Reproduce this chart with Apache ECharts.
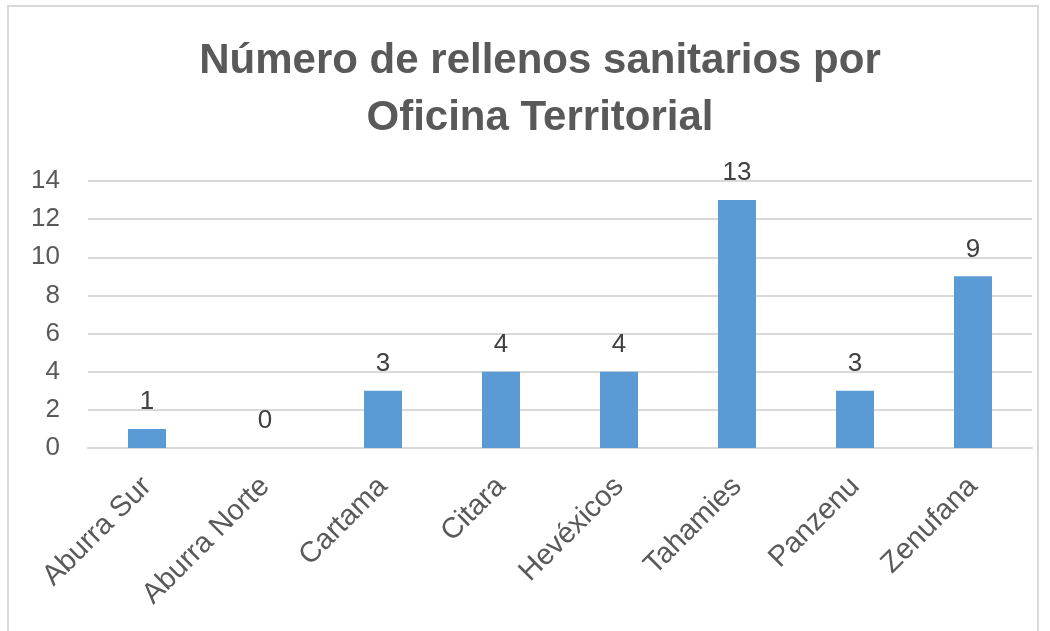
<!DOCTYPE html>
<html><head><meta charset="utf-8">
<script src="https://cdn.jsdelivr.net/npm/echarts@6/dist/echarts.min.js"></script>
<style>
html,body{margin:0;padding:0;background:#fff;}
#frame{position:absolute;left:7px;top:5px;width:1032px;height:640px;border:2px solid #d9d9d9;box-sizing:border-box;}
#c{position:absolute;left:0;top:0;width:1050px;height:631px;}
</style></head>
<body><div id="frame"></div><div id="c"></div>
<script>
const categories = ['Aburra Sur','Aburra Norte','Cartama','Citara','Hevéxicos','Tahamies','Panzenu','Zenufana'];
const values = [1,0,3,4,4,13,3,9];
const yTicks = {min:0,max:14,interval:2};
const titleText = 'Número de rellenos sanitarios por\nOficina Territorial';

const chart = echarts.init(document.getElementById('c'));
chart.setOption({
  animation:false,
  title:{text:titleText,left:535,textAlign:'center',top:28,
    textStyle:{fontFamily:'Liberation Sans',fontWeight:'bold',fontSize:42,color:'#595959',lineHeight:57}},
  grid:{left:88,right:18,top:181,bottom:183},
  xAxis:{type:'category',data:categories,
    axisLine:{show:true,lineStyle:{color:'#d9d9d9',width:2}},
    axisTick:{show:false},
    axisLabel:{rotate:45,fontFamily:'Liberation Sans',fontSize:29,color:'#595959',margin:34,interval:0}},
  yAxis:{type:'value',min:yTicks.min,max:yTicks.max,interval:yTicks.interval,
    axisLine:{show:false},axisTick:{show:false},
    splitLine:{lineStyle:{color:'#d9d9d9',width:2}},
    axisLabel:{fontFamily:'Liberation Sans',fontSize:26,color:'#595959',margin:28}},
  series:[{type:'bar',data:values,barWidth:38,
    itemStyle:{color:'#5b9bd5'},
    label:{show:true,position:'top',distance:14,fontFamily:'Liberation Sans',fontSize:26,color:'#404040'}}]
});
</script></body></html>
